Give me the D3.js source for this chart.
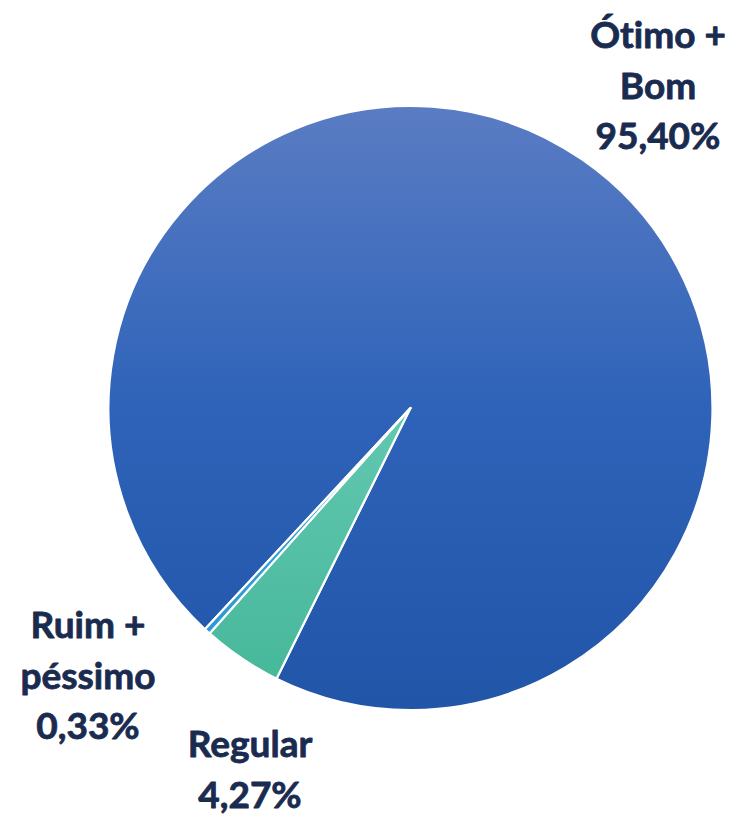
<!DOCTYPE html>
<html><head><meta charset="utf-8">
<script src="https://cdn.jsdelivr.net/npm/d3@7"></script>
<style>html,body{margin:0;padding:0;background:#fff;}svg{display:block;}text{font-variant-ligatures:none;font-feature-settings:"liga" 0;}</style>
</head><body>
<svg id="chart" width="735" height="817"></svg>
<script>
const categories = ["Ótimo + Bom", "Regular", "Ruim + péssimo"];
const values = [95.40, 4.27, 0.33];
const labelLines = [["Ótimo +", "Bom", "95,40%"], ["Regular", "4,27%"], ["Ruim +", "péssimo", "0,33%"]];

const W = 735, H = 817;
const cx = 410.5, cy = 408, R = 302;
const startDeg = 222.9;
const svg = d3.select("#chart");
const defs = svg.append("defs");

function grad(id, stops) {
  const g = defs.append("linearGradient").attr("id", id)
    .attr("gradientUnits", "userSpaceOnUse")
    .attr("x1", 0).attr("y1", -R).attr("x2", 0).attr("y2", R);
  stops.forEach(s => g.append("stop").attr("offset", s[0]).attr("stop-color", s[1]));
}
grad("gBlue", [[0, "#5a7cc3"], [0.5, "#2e63b9"], [1, "#2155a8"]]);
grad("gTeal", [[0, "#7fd3c0"], [0.5, "#62c8b1"], [1, "#44b698"]]);
grad("gSky", [[0, "#3aa6dd"], [1, "#2a98d4"]]);
const fills = ["url(#gBlue)", "url(#gTeal)", "url(#gSky)"];

const s = startDeg * Math.PI / 180;
const pie = d3.pie().sort(null).value(d => d).startAngle(s).endAngle(s + 2 * Math.PI);
const arc = d3.arc().innerRadius(0).outerRadius(R);

svg.append("g").attr("transform", `translate(${cx},${cy})`)
  .selectAll("path").data(pie(values)).join("path")
  .attr("d", arc)
  .attr("fill", (d, i) => fills[i])
  .attr("stroke", "#ffffff").attr("stroke-width", 2.2).attr("stroke-linejoin", "round");

// labels
const labelPos = [[658, 48], [250, 757], [88, 638]];
const lineH = 50.5;
const lg = svg.append("g");
labelLines.forEach((lines, i) => {
  const t = lg.append("text")
    .attr("x", labelPos[i][0]).attr("y", labelPos[i][1])
    .attr("text-anchor", "middle")
    .attr("font-family", "Lato, 'Open Sans', sans-serif")
    .attr("font-weight", 700).attr("font-size", 37)
    .attr("fill", "#1a2b50")
    .attr("stroke", "#1a2b50").attr("stroke-width", 0.8).attr("stroke-linejoin", "round");
  lines.forEach((l, j) => t.append("tspan").attr("x", labelPos[i][0]).attr("dy", j === 0 ? 0 : lineH).text(l));
});
</script>
</body></html>
